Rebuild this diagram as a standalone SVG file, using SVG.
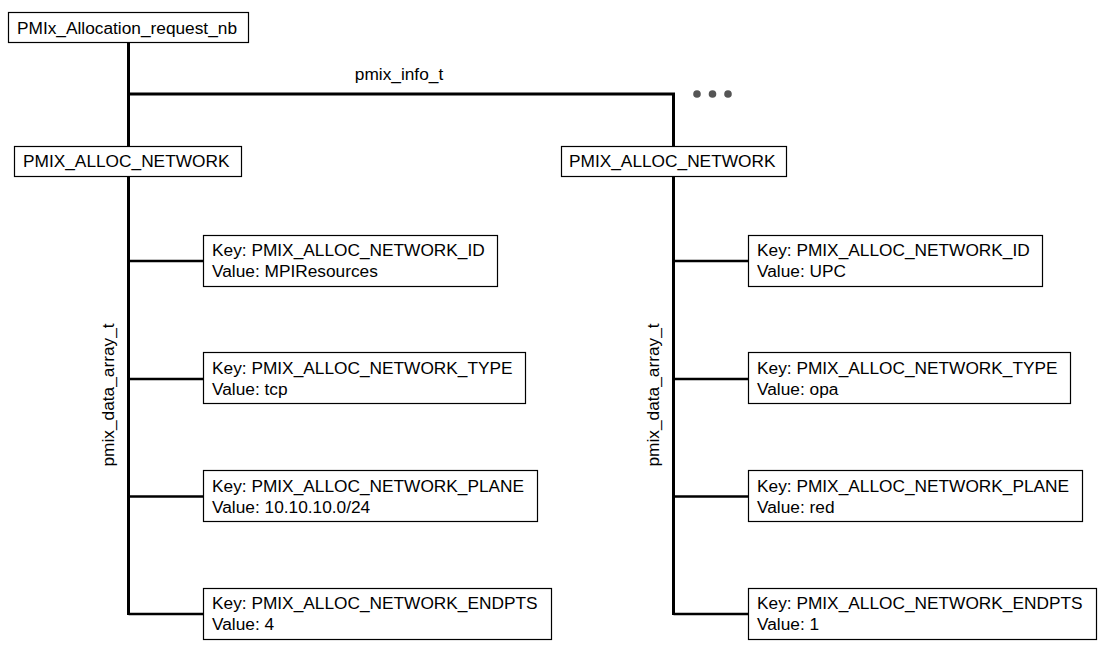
<svg xmlns="http://www.w3.org/2000/svg" width="1109" height="651" viewBox="0 0 1109 651">
<style>
  .box { fill: #ffffff; stroke: #000000; stroke-width: 1.2; }
  .t { font-family: "Liberation Sans", Arial, sans-serif; font-size: 17.3px; fill: #000000; }
  .spine { fill: none; stroke: #000000; stroke-width: 3; }
  .branch { fill: none; stroke: #000000; stroke-width: 2.6; }
  .dot { fill: #555555; }
</style>
<rect width="1109" height="651" fill="#ffffff"/>
<g id="connectors">
  <line class="spine" x1="128.5" y1="42" x2="128.5" y2="615"/>
  <polyline class="spine" points="128.5,94 673.5,94 673.5,615"/>
  <line class="branch" x1="128.5" y1="261" x2="203" y2="261"/>
  <line class="branch" x1="128.5" y1="379" x2="203" y2="379"/>
  <line class="branch" x1="128.5" y1="496.5" x2="203" y2="496.5"/>
  <polyline class="branch" points="128.5,614 203,614"/>
  <line class="branch" x1="673.5" y1="261" x2="748" y2="261"/>
  <line class="branch" x1="673.5" y1="379" x2="748" y2="379"/>
  <line class="branch" x1="673.5" y1="496.5" x2="748" y2="496.5"/>
  <line class="branch" x1="673.5" y1="614" x2="748" y2="614"/>
  <text class="t" x="399" y="80" text-anchor="middle">pmix_info_t</text>
  <text class="t" transform="translate(113.5,395) rotate(-90)" text-anchor="middle">pmix_data_array_t</text>
  <text class="t" transform="translate(658.5,395) rotate(-90)" text-anchor="middle">pmix_data_array_t</text>
  <circle class="dot" cx="697" cy="94" r="3.8"/>
  <circle class="dot" cx="712.5" cy="94" r="3.8"/>
  <circle class="dot" cx="728" cy="94" r="3.8"/>
</g>
<g id="root">
  <rect class="box" x="8.5" y="12.5" width="240" height="30"/>
  <text class="t" x="17" y="33.5">PMIx_Allocation_request_nb</text>
</g>
<g id="net-left">
  <rect class="box" x="14.5" y="146.5" width="227" height="30"/>
  <text class="t" x="23" y="166.5">PMIX_ALLOC_NETWORK</text>
</g>
<g id="net-right">
  <rect class="box" x="561.5" y="146.5" width="225" height="30"/>
  <text class="t" x="569" y="166.5">PMIX_ALLOC_NETWORK</text>
</g>
<g id="left-id">
  <rect class="box" x="203.5" y="235.5" width="294" height="51"/>
  <text class="t" x="212" y="256">Key: PMIX_ALLOC_NETWORK_ID</text>
  <text class="t" x="212" y="277">Value: MPIResources</text>
</g>
<g id="left-type">
  <rect class="box" x="203.5" y="352.5" width="322" height="51"/>
  <text class="t" x="212" y="374">Key: PMIX_ALLOC_NETWORK_TYPE</text>
  <text class="t" x="212" y="395">Value: tcp</text>
</g>
<g id="left-plane">
  <rect class="box" x="203.5" y="470.5" width="334" height="51"/>
  <text class="t" x="212" y="492">Key: PMIX_ALLOC_NETWORK_PLANE</text>
  <text class="t" x="212" y="513">Value: 10.10.10.0/24</text>
</g>
<g id="left-endpts">
  <rect class="box" x="203.5" y="588.5" width="348" height="51"/>
  <text class="t" x="212" y="609">Key: PMIX_ALLOC_NETWORK_ENDPTS</text>
  <text class="t" x="212" y="630">Value: 4</text>
</g>
<g id="right-id">
  <rect class="box" x="748.5" y="235.5" width="294" height="51"/>
  <text class="t" x="757" y="256">Key: PMIX_ALLOC_NETWORK_ID</text>
  <text class="t" x="757" y="277">Value: UPC</text>
</g>
<g id="right-type">
  <rect class="box" x="748.5" y="352.5" width="322" height="51"/>
  <text class="t" x="757" y="374">Key: PMIX_ALLOC_NETWORK_TYPE</text>
  <text class="t" x="757" y="395">Value: opa</text>
</g>
<g id="right-plane">
  <rect class="box" x="748.5" y="470.5" width="334" height="51"/>
  <text class="t" x="757" y="492">Key: PMIX_ALLOC_NETWORK_PLANE</text>
  <text class="t" x="757" y="513">Value: red</text>
</g>
<g id="right-endpts">
  <rect class="box" x="748.5" y="588.5" width="348" height="51"/>
  <text class="t" x="757" y="609">Key: PMIX_ALLOC_NETWORK_ENDPTS</text>
  <text class="t" x="757" y="630">Value: 1</text>
</g>
</svg>
